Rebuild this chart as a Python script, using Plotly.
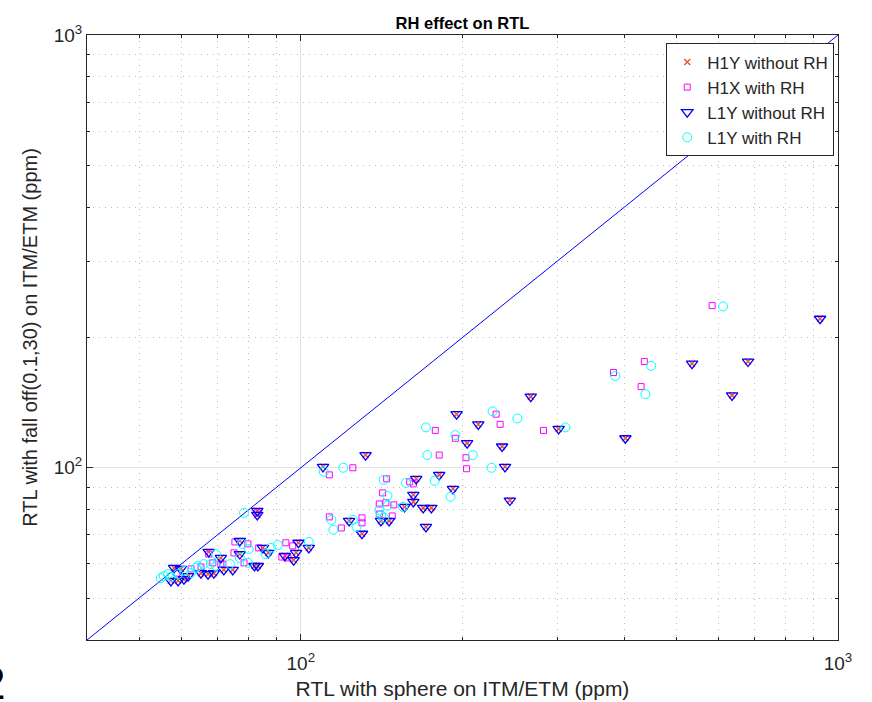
import math
import plotly.graph_objects as go

# RTL without ring heater (H1Y and L1Y share the same values)
norh_sphere = [926, 535, 680, 635, 402, 268, 195, 214, 302, 204, 237, 240, 245, 181,
               192, 164, 162, 162, 169, 175, 156, 141, 146, 123, 130, 171, 132, 110,
               83, 83, 77, 77, 85, 87, 99, 103.5, 98, 93.4, 97, 82, 83.2, 74.7, 67.4,
               71, 68.9, 71.9, 65.2, 67.2, 58.1, 59.8, 57.3, 59.1, 60.6, 61.7]
norh_falloff = [221, 174, 176, 147, 117, 146, 133, 126, 123, 114, 112, 100.5, 84, 96.3,
                89.4, 94.3, 86.6, 83.4, 80.8, 80.8, 81.2, 75.4, 75.4, 75.4, 70.4, 73,
                107, 100.5, 79.5, 77.8, 67.8, 63.2, 65.3, 63.6, 67.1, 65.3, 63.6, 62.6,
                61.2, 59.3, 59.3, 58.1, 63.9, 61.9, 57.1, 58.1, 57.1, 56.8, 58.7, 58.4,
                54.8, 54.8, 55.3, 56.2]

# H1X with ring heater
h1x_sphere = [583, 436, 382, 430, 283, 231, 235, 178, 194, 181, 203, 203.5, 125, 113,
              144.5, 159.5, 162, 142, 149, 144, 140, 140, 148, 130, 130, 113, 119, 83,
              75.4, 79.7, 75.1, 83.5, 93.8, 96.6, 92.2, 94.6, 78.4, 71.6, 67.4, 71,
              62.5, 65.2, 68.6, 58.8]
h1x_falloff = [237, 176, 166, 154, 122, 133, 126, 122, 117, 107, 105.5, 99.5, 100, 96.3,
               94.3, 92.8, 91.8, 87.5, 82.1, 83, 82.5, 78.2, 77.4, 76.6, 74.6, 77, 72.6,
               78.7, 67.4, 66.7, 63.6, 65.3, 67.1, 66, 62.2, 61.9, 60.3, 59.9, 63.2,
               59.9, 58.4, 59, 60.3, 57.1]

# L1Y with ring heater
l1y_sphere = [611, 449, 385, 438, 311, 227.5, 253, 171, 194, 172, 209, 226.5, 177.5, 190,
              120, 110.4, 142.7, 157, 145, 155, 145, 140, 141, 143, 114, 125, 127, 115,
              78.4, 77.7, 80, 77, 88, 86, 90.6, 103.5, 73.8, 79.7, 69.5, 69.5, 64.3,
              66, 68, 63.8, 55.6, 56.6, 59.1, 60.6, 62.5, 54.9, 57.3]
l1y_falloff = [236, 172, 163, 148, 124, 135, 130, 124, 119, 107, 107, 100, 93.3, 85.7,
               100, 97.9, 93.8, 92.3, 86.1, 81.2, 81.7, 79.9, 77.8, 76.6, 75.8, 75.8, 73,
               71.9, 78.7, 66.7, 64.9, 61.9, 65.3, 63.2, 66.3, 67.4, 59.9, 60.3, 63.2,
               59.3, 59.3, 59.9, 59.9, 58.7, 56.2, 56.8, 56.8, 57.8, 57.1, 55.6, 55.9]

# y = x reference and axis limits
unity_line = [40, 1000]
axis_limits = [40, 1000]
major_ticks = [100, 1000]
major_labels = ["10<sup>2</sup>", "10<sup>3</sup>"]
minor_ticks = [50, 60, 70, 80, 90, 200, 300, 400, 500, 600, 700, 800, 900]

FONT = "Liberation Sans, Arial, sans-serif"

fig = go.Figure()

fig.add_trace(go.Scatter(
    x=unity_line, y=unity_line, mode="lines",
    line=dict(color="#0000FF", width=1), showlegend=False, hoverinfo="skip"))

fig.add_trace(go.Scatter(
    x=norh_sphere, y=norh_falloff, mode="markers", name="H1Y without RH",
    marker=dict(symbol="x-thin-open", size=6, line=dict(color="#FF0000", width=1.5))))

fig.add_trace(go.Scatter(
    x=h1x_sphere, y=h1x_falloff, mode="markers", name="H1X with RH",
    marker=dict(symbol="square-open", size=6, color="#FF00FF", line=dict(width=1))))

fig.add_trace(go.Scatter(
    x=norh_sphere, y=norh_falloff, mode="markers", name="L1Y without RH",
    marker=dict(symbol="triangle-down-open", size=10, color="#0000FF", line=dict(width=1.3))))

fig.add_trace(go.Scatter(
    x=l1y_sphere, y=l1y_falloff, mode="markers", name="L1Y with RH",
    marker=dict(symbol="circle-open", size=9, color="#00FFFF", line=dict(width=1))))

log_range = [math.log10(axis_limits[0]), math.log10(axis_limits[1])]

axis_common = dict(
    type="log", range=log_range,
    tickvals=major_ticks, ticktext=major_labels,
    ticks="inside", ticklen=6, tickcolor="#262626",
    showline=True, linecolor="#262626", linewidth=1, mirror="ticks",
    showgrid=True, gridcolor="#e3e3e3", gridwidth=1,
    zeroline=False,
    tickfont=dict(family=FONT, size=19, color="#262626"),
    minor=dict(tickvals=minor_ticks, ticks="inside", ticklen=3, tickcolor="#262626",
               showgrid=True, gridcolor="#bdbdbd", griddash="1px,5px", gridwidth=1),
)

fig.update_xaxes(**axis_common, ticklabelstandoff=6,
                 title=dict(text="RTL with sphere on ITM/ETM (ppm)", standoff=8,
                            font=dict(family=FONT, size=21, color="#262626")))
fig.update_yaxes(**axis_common,
                 title=dict(text="RTL with fall off(0.1,30) on ITM/ETM (ppm)", standoff=10,
                            font=dict(family=FONT, size=20, color="#262626")))

fig.update_layout(
    width=872, height=702,
    margin=dict(l=87, r=34, t=35, b=62, autoexpand=False),
    plot_bgcolor="white", paper_bgcolor="white",
    title=dict(text="<b>RH effect on RTL</b>", x=0.5, xref="paper", xanchor="center",
               y=1, yref="paper", yanchor="bottom", pad=dict(b=6),
               font=dict(family=FONT, size=16.5, color="black")),
    legend=dict(x=0.995, y=0.986, xanchor="right", yanchor="top",
                bgcolor="white", bordercolor="#262626", borderwidth=1,
                font=dict(family=FONT, size=17, color="#262626"),
                itemwidth=30, tracegroupgap=0),
    showlegend=True,
    annotations=[dict(text="2", xref="paper", yref="paper", x=-0.105, y=-0.071,
                      xanchor="right", yanchor="middle", showarrow=False,
                      font=dict(family=FONT, size=46, color="black"))],
)

fig.write_html("out.html")
